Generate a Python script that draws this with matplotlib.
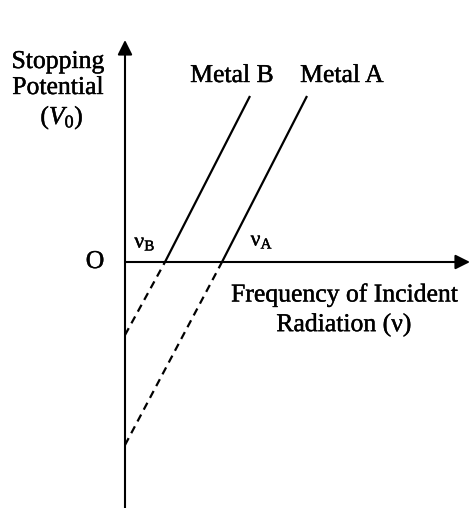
import matplotlib
matplotlib.use("Agg")
import matplotlib.pyplot as plt
import matplotlib.patheffects as pe

plt.rcParams['font.family'] = ['Liberation Serif', 'DejaVu Serif']
plt.rcParams['mathtext.fontset'] = 'custom'
plt.rcParams['mathtext.rm'] = 'Liberation Serif'
plt.rcParams['mathtext.it'] = 'Liberation Serif:italic'

# Data (frequency nu, stopping potential V0)
metal_names = ["Metal B", "Metal A"]
threshold_nu = [40, 97]            # nu_B, nu_A (x-axis crossings)
solid_nu = [[40, 125], [97, 182]]  # solid parts (above axis)
solid_v = [[0, 166], [0, 166]]
dashed_nu = [[0, 40], [0, 97]]     # dashed extrapolation to V axis
dashed_v = [[-73, 0], [-183, 0]]

fig = plt.figure(figsize=(4.71, 5.08), dpi=100)
ax = fig.add_axes([0, 0, 1, 1])
ax.set_xlim(-125, 346)
ax.set_ylim(-246, 262)
ax.axis('off')

arrow = dict(arrowstyle='-|>', lw=1.5, color='black', mutation_scale=22,
             shrinkA=0, shrinkB=0)
ax.annotate('', xy=(0, 222), xytext=(0, -246), arrowprops=arrow)
ax.annotate('', xy=(345, 0), xytext=(0, 0), arrowprops=arrow)

for sn, sv, dn, dv in zip(solid_nu, solid_v, dashed_nu, dashed_v):
    ax.plot(sn, sv, color='black', lw=1.6, solid_capstyle='butt')
    ax.plot(dn, dv, color='black', lw=1.6, linestyle=(0, (3.5, 2.5)))

heavy = [pe.withStroke(linewidth=0.3, foreground='black')]
fs = 18.5
def t(x, y, s, size=fs):
    ax.text(x, y, s, ha='center', va='center', fontsize=size, path_effects=heavy)

t(-67, 200, "Stopping")
t(-67, 174, "Potential")
t(-63, 144, r"($V_0$)")

t(107, 186, metal_names[0])
t(217, 186, metal_names[1])

t(20, 19, r"ν$_{\mathrm{B}}$", fs - 3)
t(137, 21, r"ν$_{\mathrm{A}}$", fs - 3)
t(-30, 0, "O")

t(220, -33, "Frequency of Incident")
t(219, -63, "Radiation (ν)")

fig.savefig("out.png", dpi=100)
